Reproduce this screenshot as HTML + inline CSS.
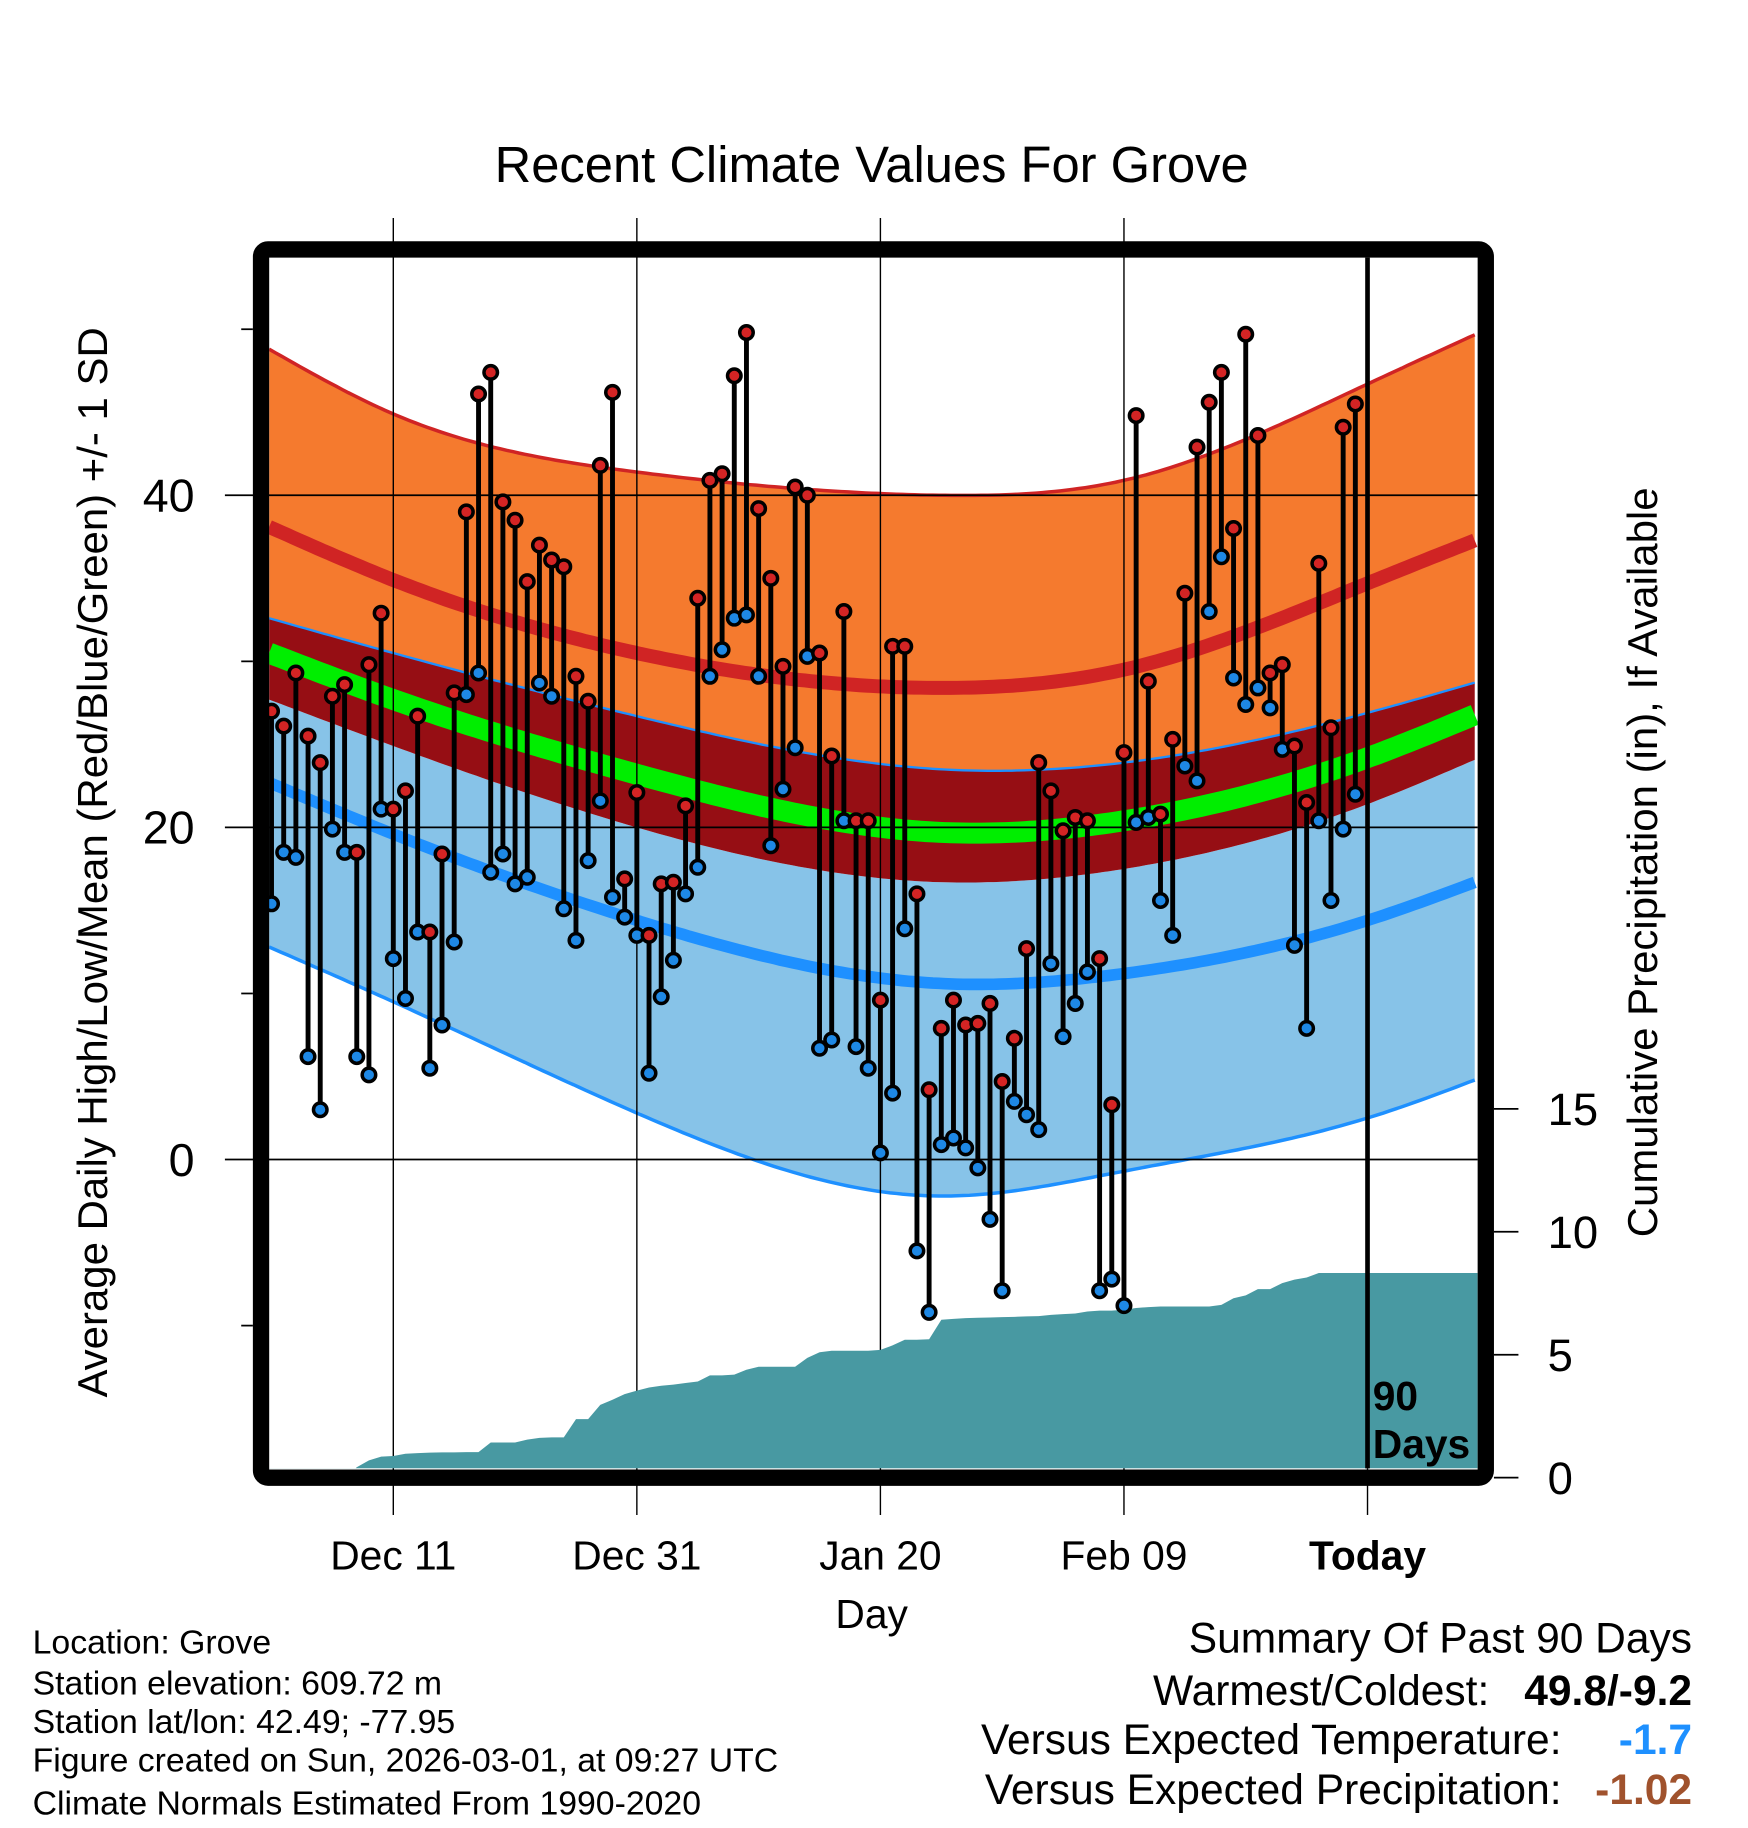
<!DOCTYPE html>
<html><head><meta charset="utf-8">
<style>
html,body{margin:0;padding:0;background:#fff;}
svg{display:block;}
text{font-family:"Liberation Sans",Arial,sans-serif;fill:#000;}
</style></head>
<body>
<svg id="chart" width="1748" height="1828" viewBox="0 0 1500 1568.6" xmlns="http://www.w3.org/2000/svg">
<g id="bands"></g>
<g id="grid"></g>
<g id="precip"></g>
<g id="marks"></g>
<g id="axes"></g>
<text x="748" y="156" font-size="43.5" text-anchor="middle">Recent Climate Values For Grove</text>
<text transform="translate(92,740) rotate(-90)" font-size="36" text-anchor="middle">Average Daily High/Low/Mean (Red/Blue/Green) +/- 1 SD</text>
<text transform="translate(1422,740) rotate(-90)" font-size="36" text-anchor="middle">Cumulative Precipitation (in), If Available</text>
<text x="748" y="1397" font-size="35" text-anchor="middle">Day</text>
<text x="1178" y="1210" font-size="35" font-weight="bold">90</text>
<text x="1178" y="1251" font-size="35" font-weight="bold">Days</text>
<g font-size="29">
<text x="28" y="1419">Location: Grove</text>
<text x="28" y="1454">Station elevation: 609.72 m</text>
<text x="28" y="1487">Station lat/lon: 42.49; -77.95</text>
<text x="28" y="1520">Figure created on Sun, 2026-03-01, at 09:27 UTC</text>
<text x="28" y="1557">Climate Normals Estimated From 1990-2020</text>
</g>
<g font-size="36.5">
<text x="1452" y="1418" text-anchor="end">Summary Of Past 90 Days</text>
<text x="1278" y="1463" text-anchor="end">Warmest/Coldest:</text>
<text x="1452" y="1463" text-anchor="end" font-weight="bold">49.8/-9.2</text>
<text x="1340" y="1505" text-anchor="end">Versus Expected Temperature:</text>
<text x="1452" y="1505" text-anchor="end" font-weight="bold" style="fill:#1e90ff">-1.7</text>
<text x="1340" y="1548" text-anchor="end">Versus Expected Precipitation:</text>
<text x="1452" y="1548" text-anchor="end" font-weight="bold" style="fill:#a0522d">-1.02</text>
</g>
</svg>
<script>
const highs=[27.0,26.1,29.3,25.5,23.9,27.9,28.6,18.5,29.8,32.9,21.1,22.2,26.7,13.7,18.4,28.1,39.0,46.1,47.4,39.6,38.5,34.8,37.0,36.1,35.7,29.1,27.6,41.8,46.2,16.9,22.1,13.5,16.6,16.7,21.3,33.8,40.9,41.3,47.2,49.8,39.2,35.0,29.7,40.5,40.0,30.5,24.3,33.0,20.4,20.4,9.6,30.9,30.9,16.0,4.2,7.9,9.6,8.1,8.2,9.4,4.7,7.3,12.7,23.9,22.2,19.8,20.6,20.4,12.1,3.3,24.5,44.8,28.8,20.8,25.3,34.1,42.9,45.6,47.4,38.0,49.7,43.6,29.3,29.8,24.9,21.5,35.9,26.0,44.1,45.5];
const lows=[15.4,18.5,18.2,6.2,3.0,19.9,18.5,6.2,5.1,21.1,12.1,9.7,13.7,5.5,8.1,13.1,28.0,29.3,17.3,18.4,16.6,17.0,28.7,27.9,15.1,13.2,18.0,21.6,15.8,14.6,13.5,5.2,9.8,12.0,16.0,17.6,29.1,30.7,32.6,32.8,29.1,18.9,22.3,24.8,30.3,6.7,7.2,20.4,6.8,5.5,0.4,4.0,13.9,-5.5,-9.2,0.9,1.3,0.7,-0.5,-3.6,-7.9,3.5,2.7,1.8,11.8,7.4,9.4,11.3,-7.9,-7.2,-8.8,20.3,20.6,15.6,13.5,23.7,22.8,33.0,36.3,29.0,27.4,28.4,27.2,24.7,12.9,7.9,20.4,15.6,19.9,22.0];
const precip=[0,0,0,0,0,0,0,0.42,0.7,0.86,0.88,0.97,1.0,1.02,1.03,1.03,1.04,1.04,1.43,1.43,1.43,1.55,1.62,1.64,1.64,2.38,2.38,2.96,3.17,3.4,3.54,3.67,3.74,3.78,3.85,3.91,4.16,4.16,4.19,4.39,4.51,4.51,4.51,4.51,4.87,5.10,5.16,5.16,5.16,5.16,5.2,5.38,5.61,5.61,5.63,6.42,6.46,6.49,6.5,6.51,6.53,6.54,6.56,6.57,6.62,6.65,6.68,6.76,6.79,6.79,6.83,6.90,6.94,6.96,6.96,6.96,6.96,6.96,7.03,7.30,7.41,7.67,7.67,7.91,8.05,8.14,8.32,8.32,8.32,8.32];
const normDays=[-0.2,10,30,55,70,90,99.2];
const normHiPlus=[48.8,44.9,41.4,40.0,40.9,46.7,49.8];
const normHi=[38.1,34.9,30.5,28.4,29.5,34.7,37.4];
const normHiMinus=[32.6,30.5,26.7,23.5,23.9,26.9,28.8];
const normMean=[30.5,27.7,23.2,19.7,20.4,24.2,26.9];
const normLoPlus=[27.7,24.9,20.0,16.7,17.5,21.4,24.2];
const normLo=[22.7,19.6,14.4,10.6,11.2,14.4,16.8];
const normLoMinus=[12.8,9.5,2.8,-2.2,-0.7,2.5,4.9];
const xTickLabels=["Dec 11","Dec 31","Jan 20","Feb 09","Today"];
const xTickDays=[10,30,50,70,90];
const yTickValues=[0,20,40];
const yMinorValues=[-10,10,30,50];
const precipTicks=[0,5,10,15];

const NS="http://www.w3.org/2000/svg";
const X=d=>233+d*10.45;
const Y=t=>995-t*14.25;
const YP=p=>1268-p*21.1;
const PL=231,PR=1268,PT=221,PB=1260;
function mk(tag,attrs,parent){const e=document.createElementNS(NS,tag);for(const k in attrs)e.setAttribute(k,attrs[k]);parent.appendChild(e);return e;}
function spline(xs,ys){
  const n=xs.length,h=[],a=[],l=[1],mu=[0],z=[0],c=new Array(n).fill(0),b=[],d=[];
  for(let i=0;i<n-1;i++)h.push(xs[i+1]-xs[i]);
  for(let i=1;i<n-1;i++)a[i]=3/h[i]*(ys[i+1]-ys[i])-3/h[i-1]*(ys[i]-ys[i-1]);
  for(let i=1;i<n-1;i++){l[i]=2*(xs[i+1]-xs[i-1])-h[i-1]*mu[i-1];mu[i]=h[i]/l[i];z[i]=(a[i]-h[i-1]*z[i-1])/l[i];}
  for(let j=n-2;j>=0;j--){c[j]=(j>0?z[j]-mu[j]*c[j+1]:0);}
  c[0]=0;
  for(let j=0;j<n-1;j++){b[j]=(ys[j+1]-ys[j])/h[j]-h[j]*(c[j+1]+2*c[j])/3;d[j]=(c[j+1]-c[j])/(3*h[j]);}
  return t=>{let j=0;while(j<n-2&&t>xs[j+1])j++;const dx=t-xs[j];return ys[j]+b[j]*dx+c[j]*dx*dx+d[j]*dx*dx*dx;};
}
function curve(vals){
  const f=spline(normDays,vals);const out=[];
  for(let t=normDays[0];t<=normDays[normDays.length-1]+0.001;t+=0.5)out.push([X(t),Y(f(t))]);
  return out;
}
const toD=a=>a.map((p,i)=>(i?'L':'M')+p[0].toFixed(1)+','+p[1].toFixed(1)).join('');
const between=(a,b)=>toD(a)+toD(b.slice().reverse()).replace('M','L')+'Z';
const bands=document.getElementById('bands');
mk('clipPath',{id:'pc'},bands);
mk('rect',{x:PL,y:PT,width:PR-PL,height:PB-PT},document.getElementById('pc'));
bands.setAttribute('clip-path','url(#pc)');
const cHP=curve(normHiPlus),cH=curve(normHi),cHM=curve(normHiMinus),cM=curve(normMean),cLP=curve(normLoPlus),cL=curve(normLo),cLM=curve(normLoMinus);
let e;
e=mk('path',{d:between(cHP,cHM),fill:'#f57a2e'},bands);


e=mk('path',{d:between(cLP,cLM),fill:'#87c3e8'},bands);


e=mk('path',{d:between(cHM,cLP),fill:'#960e14'},bands);


e=mk('path',{d:toD(cM),fill:'none',stroke:'#00ee00','stroke-width':18},bands);


e=mk('path',{d:toD(cH),fill:'none',stroke:'#d02424','stroke-width':12},bands);


e=mk('path',{d:toD(cL),fill:'none',stroke:'#1e90ff','stroke-width':10},bands);


e=mk('path',{d:toD(cHP),fill:'none',stroke:'#d02424','stroke-width':3},bands);


e=mk('path',{d:toD(cHM),fill:'none',stroke:'#1e90ff','stroke-width':2},bands);


e=mk('path',{d:toD(cLM),fill:'none',stroke:'#1e90ff','stroke-width':3},bands);



const grid=document.getElementById('grid');
yTickValues.forEach(v=>{
  e=mk('line',{x1:193,x2:PR,y1:Y(v),y2:Y(v),stroke:'#000','stroke-width':1.5},grid);
  
  
});
xTickDays.forEach((d,i)=>{
  if(i===xTickDays.length-1)return;
  e=mk('line',{x1:X(d),x2:X(d),y1:187,y2:1300,stroke:'#000','stroke-width':1.2},grid);
  
  
});

const pg=document.getElementById('precip');
pg.setAttribute('clip-path','url(#pc)');
let pd='M'+PL+','+PB;
precip.forEach((p,i)=>{pd+='L'+X(i).toFixed(1)+','+YP(p).toFixed(1);});
pd+='L'+PR+','+YP(precip[precip.length-1]).toFixed(1)+'L'+PR+','+PB+'Z';
e=mk('path',{d:pd,fill:'#4899a2'},pg);


e=mk('line',{x1:X(90),x2:X(90),y1:1260,y2:1300,stroke:'#000','stroke-width':1.2},grid);



const marks=document.getElementById('marks');
highs.forEach((h,i)=>{
  e=mk('line',{x1:X(i),x2:X(i),y1:Y(h),y2:Y(lows[i]),stroke:'#000','stroke-width':4.2},marks);
  
  
});
highs.forEach((h,i)=>{
  e=mk('circle',{cx:X(i),cy:Y(lows[i]),r:5.8,fill:'#1e88e5',stroke:'#000','stroke-width':3},marks);
  
  
  e=mk('circle',{cx:X(i),cy:Y(h),r:5.8,fill:'#d42424',stroke:'#000','stroke-width':3},marks);
  
  
});

const axes=document.getElementById('axes');
e=mk('line',{x1:X(90),x2:X(90),y1:PT,y2:PB,stroke:'#000','stroke-width':4},axes);


e=mk('rect',{x:224,y:214,width:1051,height:1054,rx:6,fill:'none',stroke:'#000','stroke-width':14},axes);


yTickValues.forEach(v=>{
  e=mk('text',{x:167,y:Y(v)+14,'font-size':40,'text-anchor':'end'},axes);
  e.textContent=String(v);
  
  
});
yMinorValues.forEach(v=>{
  e=mk('line',{x1:207,x2:217,y1:Y(v),y2:Y(v),stroke:'#000','stroke-width':1.5},axes);
  
  
});
precipTicks.forEach(p=>{
  e=mk('line',{x1:1282,x2:1303,y1:YP(p),y2:YP(p),stroke:'#000','stroke-width':1.5},axes);
  
  
  e=mk('text',{x:1328,y:YP(p)+14,'font-size':39},axes);
  e.textContent=String(p);
  
  
});
xTickLabels.forEach((lab,i)=>{
  e=mk('text',{x:X(xTickDays[i]),y:1347,'font-size':35,'text-anchor':'middle'},axes);
  if(lab==='Today')e.setAttribute('font-weight','bold');
  e.textContent=lab;
  
  
});
</script>
</body></html>
